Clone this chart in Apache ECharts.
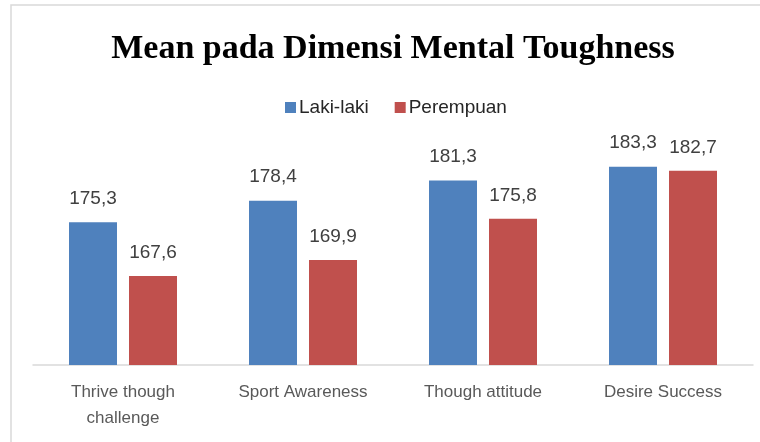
<!DOCTYPE html>
<html lang="id">
<head>
    <meta charset="UTF-8">
    <title>Mean pada Dimensi Mental Toughness</title>
    <script src="https://cdn.jsdelivr.net/npm/echarts@6/dist/echarts.min.js"></script>
    <style>
        html, body { margin: 0; padding: 0; background: #fff; }
        #main { width: 760px; height: 442px; }
    </style>
</head>
<body>
<div id="main"></div>

<script>
    // data dari gambar
    var kategori = ['Thrive though\nchallenge', 'Sport Awareness', 'Though attitude', 'Desire Success'];
    var lakiLaki = [175.3, 178.4, 181.3, 183.3];
    var perempuan = [167.6, 169.9, 175.8, 182.7];

    var myChart = echarts.init(document.getElementById('main'));

    // format angka pakai koma
    function koma(p) {
        return String(p.value.toFixed(1)).replace('.', ',');
    }

    var option = {
        backgroundColor: '#fff',
        animation: false,
        graphic: [{
            type: 'rect',
            shape: { x: 11, y: 5, width: 760, height: 450 },
            style: { fill: 'none', stroke: '#d9d9d9', lineWidth: 1.5 }
        }],
        title: {
            text: 'Mean pada Dimensi Mental Toughness',
            left: 388,
            textAlign: 'center',
            top: 27,
            textStyle: {
                fontFamily: 'Liberation Serif',
                fontWeight: 'bold',
                fontSize: 34,
                color: '#000'
            }
        },
        legend: {
            data: ['Laki-laki', 'Perempuan'],
            left: 280,
            top: 93,
            itemWidth: 11,
            itemHeight: 11,
            itemGap: 26,
            icon: 'rect',
            textStyle: {
                fontFamily: 'Liberation Sans',
                fontSize: 19,
                color: '#262626',
                padding: [0, 0, 0, -2]
            }
        },
        grid: {
            left: 33,
            right: 7,
            top: 120,
            bottom: 77
        },
        xAxis: {
            type: 'category',
            data: kategori,
            axisLine: { lineStyle: { color: '#d9d9d9', width: 1.5 } },
            axisTick: { show: false },
            axisLabel: {
                margin: 14,
                fontFamily: 'Liberation Sans',
                fontSize: 17,
                lineHeight: 26,
                color: '#595959',
                interval: 0
            }
        },
        yAxis: {
            type: 'value',
            min: 154.8,
            max: 190,
            show: false,
            splitLine: { show: false }
        },
        series: [
            {
                name: 'Laki-laki',
                type: 'bar',
                data: lakiLaki,
                barWidth: 48,
                barGap: '25%',
                itemStyle: { color: '#4f81bd' },
                label: {
                    show: true,
                    position: 'top',
                    distance: 14,
                    formatter: koma,
                    fontFamily: 'Liberation Sans',
                    fontSize: 19,
                    color: '#404040'
                }
            },
            {
                name: 'Perempuan',
                type: 'bar',
                data: perempuan,
                barWidth: 48,
                barGap: '25%',
                itemStyle: { color: '#c0504d' },
                label: {
                    show: true,
                    position: 'top',
                    distance: 14,
                    formatter: koma,
                    fontFamily: 'Liberation Sans',
                    fontSize: 19,
                    color: '#404040'
                }
            }
        ]
    };

    myChart.setOption(option);
</script>
</body>
</html>
